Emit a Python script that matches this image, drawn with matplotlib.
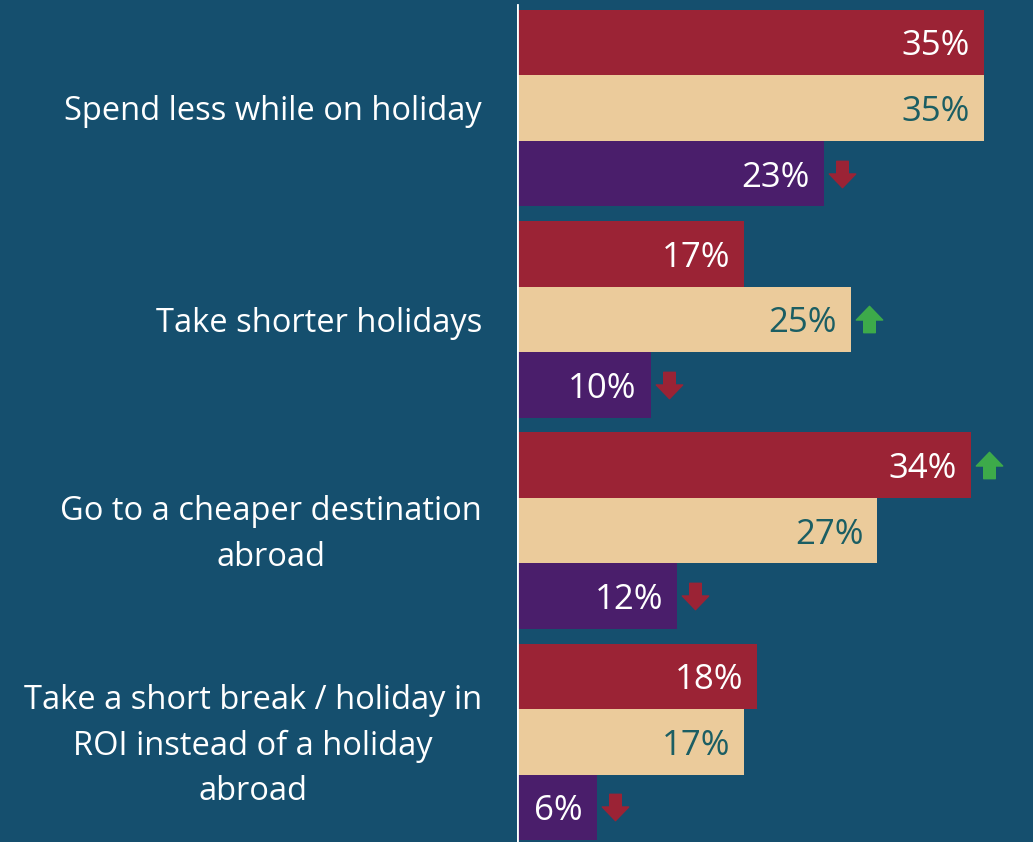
import numpy as np
import matplotlib.pyplot as plt
from matplotlib.path import Path

plt.rcParams['font.family'] = ['Open Sans', 'DejaVu Sans']

# 数据
categories = ['Spend less while on holiday',
              'Take shorter holidays',
              'Go to a cheaper destination\nabroad',
              'Take a short break / holiday in\nROI instead of a holiday\nabroad']
series_a = [35, 17, 34, 18]   # 红色
series_b = [35, 25, 27, 17]   # 米色
series_c = [23, 10, 12, 6]    # 紫色
# 变化方向: 1 上升, -1 下降, 0 无
trend_a = [0, 0, 1, 0]
trend_b = [0, 1, 0, 0]
trend_c = [-1, -1, -1, -1]

bg = '#154F6E'
bar_colors = ['#9B2335', '#EBCB9B', '#4A1E6B']
text_colors = ['white', '#1B5E63', 'white']

# 箭头形状
down_arrow = Path([(-0.22, 0.5), (0.22, 0.5), (0.22, 0.02), (0.5, 0.02),
                   (0, -0.5), (-0.5, 0.02), (-0.22, 0.02), (-0.22, 0.5)],
                  closed=True)
up_arrow = Path([(x, -y) for x, y in down_arrow.vertices], closed=True)

fig = plt.figure(figsize=(10.33, 8.42), dpi=100, facecolor=bg)
ax = fig.add_axes([517 / 1033, 0, 516 / 1033, 1])
ax.set_facecolor(bg)

px = 13.35                 # 每个百分点的像素
ax.set_xlim(0, 516 / px)
pitch = 211.3
ax.set_ylim((842 - 108) / pitch, -108 / pitch)
shift = 4 / pitch          # 文字略微下移

h = 0.31
y = np.arange(len(categories))
offsets = [-h, 0, h]
for k, (vals, trends) in enumerate([(series_a, trend_a), (series_b, trend_b), (series_c, trend_c)]):
    yy = y + offsets[k]
    ax.barh(yy, vals, height=h, color=bar_colors[k], linewidth=0)
    for v, t, yi in zip(vals, trends, yy):
        ax.text(v - 14 / px, yi + shift, f'{v}%', ha='right', va='center',
                fontsize=25, color=text_colors[k])
        if t != 0:
            ax.plot(v + 18 / px, yi, marker=up_arrow if t > 0 else down_arrow,
                    markersize=19, color='#3DAA4A' if t > 0 else '#9B2335',
                    linestyle='none')

for c, yi in zip(categories, y):
    fig.text(482 / 1033, 1 - (112 + pitch * yi) / 842, c, ha='right', va='center',
             multialignment='center', fontsize=23.5, color='white', linespacing=1.5)

ax.axvline(0, ymin=0, ymax=1 - 5 / 842, color='white', linewidth=2)
ax.axis('off')

fig.savefig('out.png', dpi=100, facecolor=bg)
